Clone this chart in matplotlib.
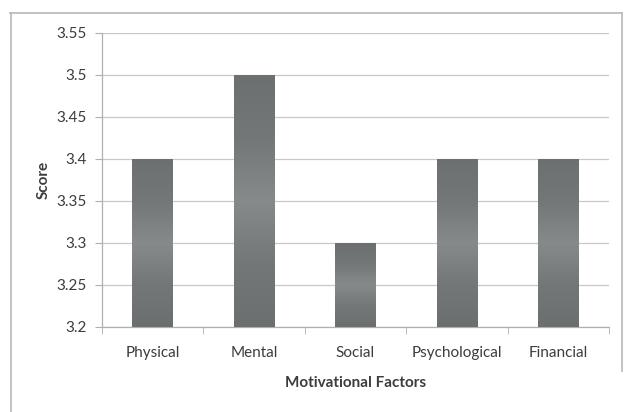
import numpy as np
import matplotlib
matplotlib.use("Agg")
import matplotlib.pyplot as plt
from matplotlib.lines import Line2D
from matplotlib.colors import LinearSegmentedColormap

categories = ["Physical", "Mental", "Social", "Psychological", "Financial"]
scores = [3.4, 3.5, 3.3, 3.4, 3.4]
y_ticks = [3.2, 3.25, 3.3, 3.35, 3.4, 3.45, 3.5, 3.55]
y_tick_labels = ["3.2", "3.25", "3.3", "3.35", "3.4", "3.45", "3.5", "3.55"]

plt.rcParams["font.family"] = ["Lato", "DejaVu Sans"]
text_color = "#3c3c3c"

W, H = 624, 412
fig = plt.figure(figsize=(W / 100, H / 100), dpi=100)
ax = fig.add_axes([102 / W, 1 - 327 / H, 507 / W, 294 / H])

x = np.arange(len(categories))
bars = ax.bar(x, scores, width=0.4, color="#777a7a", zorder=2)

# shaded fill for each bar: darker edges, softer lighter band
shade = LinearSegmentedColormap.from_list(
    "shade", ["#6c6f6f", "#747777", "#878a8a", "#747777", "#6d7070"])
grad = np.linspace(0, 1, 256).reshape(-1, 1)
for b in bars:
    x0 = b.get_x()
    w = b.get_width()
    top = b.get_height()
    im = ax.imshow(grad, cmap=shade, aspect="auto", origin="lower",
                   extent=(x0, x0 + w, 3.2, top), zorder=3)
    im.set_clip_path(b)
ax.set_xlim(-0.5, len(categories) - 0.5)
ax.set_ylim(3.2, 3.55)

ax.set_yticks(y_ticks)
ax.set_yticklabels(y_tick_labels)
ax.set_xticks(x)
ax.set_xticklabels(categories)
ax.set_xticks(np.arange(-0.5, len(categories)), minor=True)
ax.tick_params(axis="x", which="major", length=0, pad=14,
               labelsize=11, labelcolor=text_color)
ax.tick_params(axis="x", which="minor", length=5, color="#b0b0b0",
               direction="out")
ax.tick_params(axis="y", length=5, color="#b0b0b0", direction="out",
               pad=6, labelsize=11, labelcolor=text_color)

ax.grid(axis="y", color="#c8c8c8", linewidth=0.9, zorder=0)
ax.set_axisbelow(True)
for side in ("top", "right"):
    ax.spines[side].set_visible(False)
for side in ("left", "bottom"):
    ax.spines[side].set_color("#b0b0b0")
    ax.spines[side].set_linewidth(0.9)

ax.set_xlabel("Motivational Factors", fontsize=11, fontweight="bold",
              color=text_color, labelpad=11)
ax.set_ylabel("Score", fontsize=11, fontweight="bold", color=text_color,
              labelpad=4)

# chart frame
frame = dict(color="#b8b8b8", linewidth=1.2, transform=fig.transFigure)
fig.add_artist(Line2D([10 / W, 622 / W], [1 - 13 / H, 1 - 13 / H], **frame))
fig.add_artist(Line2D([10.5 / W, 10.5 / W], [0, 1 - 13 / H], **frame))
fig.add_artist(Line2D([621.5 / W, 621.5 / W], [0.1, 1 - 13 / H], **frame))

fig.savefig("out.png", dpi=100)
